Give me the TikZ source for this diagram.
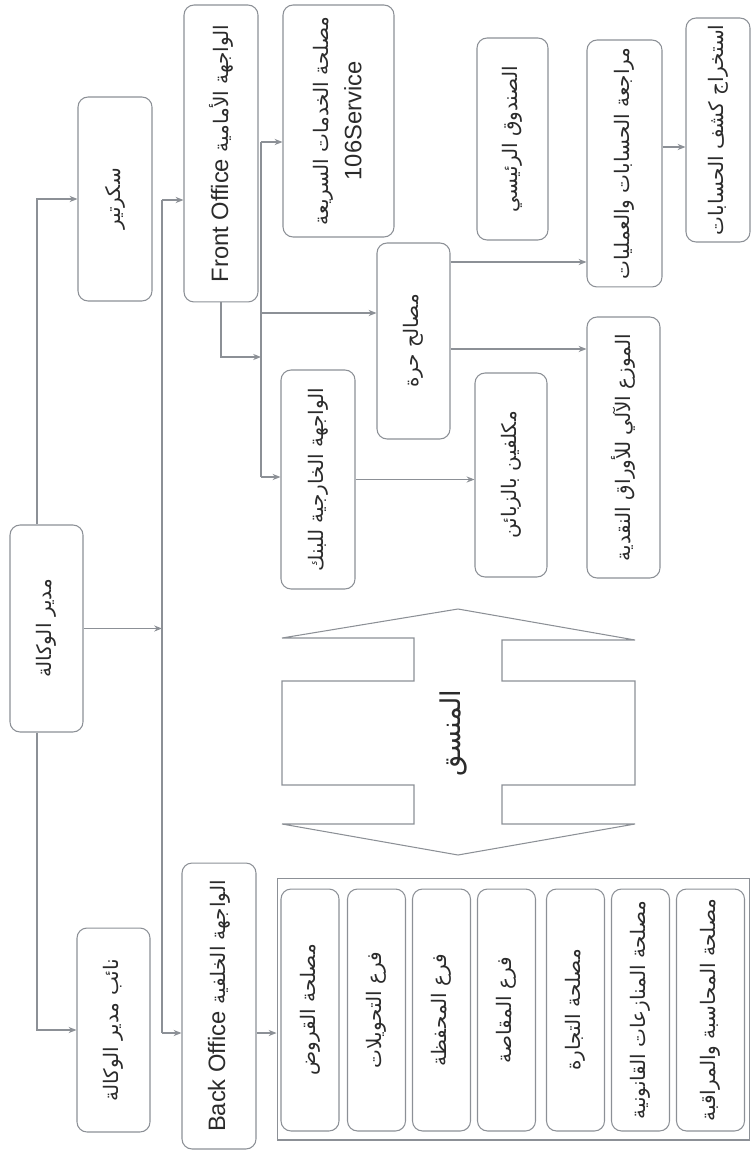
\documentclass[tikz,border=0pt]{standalone}
\usepackage{fontspec}
\setmainfont{Liberation Sans}
\newfontfamily\arabicfont[Script=Arabic]{DejaVu Sans}
\TeXXeTstate=1
\usetikzlibrary{arrows.meta, positioning}
\definecolor{linegray}{HTML}{8C9096}
\definecolor{inkgray}{HTML}{2B2B2B}
\newcommand{\artext}[1]{\mbox{\arabicfont\beginR #1\endR}}
\newcommand{\vtext}[1]{\rotatebox{90}{#1}}
\newcommand{\flatbox}[1]{{\setlength{\fboxrule}{0pt}\fbox{#1}}}

\begin{document}
\begin{tikzpicture}[
    x=0.02cm, y=-0.02cm,
    every node/.style={font=\fontsize{11.4}{14}\selectfont, text=inkgray},
    latin/.style={font=\fontsize{13.5}{16}\selectfont},
    box/.style={rectangle, rounded corners=0.2cm, draw=linegray, line width=0.6pt, inner sep=0pt, align=center},
    unit/.style={box, minimum width=1.16cm, minimum height=4.84cm},
    arrow/.style={-{Stealth[length=4.5pt, width=3.5pt]}, draw=linegray, line width=0.6pt},
    wire/.style={draw=linegray, line width=0.6pt}
]
\useasboundingbox (0,0) rectangle (752,1151);

% management column
\node[box, minimum width=1.46cm, minimum height=4.14cm] (mgr) at (46.5,628.5) {\vtext{\artext{مدير الوكالة}}};
\node[box, minimum width=1.48cm, minimum height=4.08cm] (sec) at (115,199) {\vtext{\artext{سكرتير}}};
\node[box, minimum width=1.46cm, minimum height=4.08cm] (deputy) at (113.5,1030) {\vtext{\artext{نائب مدير الوكالة}}};

% front and back office
\node[box, latin, minimum width=1.48cm, minimum height=5.94cm] (front) at (221,153.5) {\vtext{Front Office {\fontsize{11.4}{14}\selectfont\artext{الواجهة الأمامية}}}};
\node[box, latin, minimum width=1.48cm, minimum height=5.72cm] (back) at (219,1006) {\vtext{Back Office {\fontsize{11.4}{14}\selectfont\artext{الواجهة الخلفية}}}};

% front office units
\node[box, minimum width=2.22cm, minimum height=4.64cm] (quick) at (338.5,121) {\vtext{\flatbox{\begin{tabular}{@{}c@{}}\flatbox{\artext{مصلحة الخدمات السريعة}}\\\flatbox{\fontsize{13.5}{16}\selectfont 106Service}\end{tabular}}}};
\node[box, minimum width=1.48cm, minimum height=4.38cm] (ext) at (318,479.5) {\vtext{\artext{الواجهة الخارجية للبنك}}};
\node[box, minimum width=1.46cm, minimum height=3.92cm] (free) at (413.5,341) {\vtext{\artext{مصالح حرة}}};
\node[box, minimum width=1.44cm, minimum height=4.08cm] (clients) at (511,475) {\vtext{\artext{مكلفين بالزبائن}}};
\node[box, minimum width=1.42cm, minimum height=4.04cm] (cash) at (512.5,139) {\vtext{\artext{الصندوق الرئيسي}}};
\node[box, minimum width=1.46cm, minimum height=5.22cm] (atm) at (623.5,447.5) {\vtext{\artext{الموزع الآلي للأوراق النقدية}}};
\node[box, minimum width=1.50cm, minimum height=4.94cm] (audit) at (624.5,163.5) {\vtext{\artext{مراجعة الحسابات والعمليات}}};
\node[box, minimum width=1.28cm, minimum height=4.48cm] (stmt) at (718,130) {\vtext{\artext{استخراج كشف الحسابات}}};

% back office units
\node[draw=linegray, line width=0.6pt, minimum width=9.46cm, minimum height=5.24cm, inner sep=0pt] (backgrp) at (513.5,1009) {};
\node[unit] (loans) at (310,1010) {\vtext{\artext{مصلحة القروض}}};
\node[unit] (transfers) at (376.5,1010) {\vtext{\artext{فرع التحويلات}}};
\node[unit] (portfolio) at (441.5,1010) {\vtext{\artext{فرع المحفظة}}};
\node[unit] (clearing) at (506.5,1010) {\vtext{\artext{فرع المقاصة}}};
\node[unit] (trade) at (575.5,1010) {\vtext{\artext{مصلحة التجارة}}};
\node[unit] (legal) at (640.5,1010) {\vtext{\artext{مصلحة المنازعات القانونية}}};
\node[unit, minimum width=1.36cm] (accounting) at (710.5,1010) {\vtext{\artext{مصلحة المحاسبة والمراقبة}}};

% coordinator double arrow
\draw[wire] (282,638) -- (458,609) -- (635,640) -- (502,640) -- (502,681) -- (635,681)
  -- (635,785) -- (502,785) -- (502,824) -- (635,824) -- (458,855) -- (282,824)
  -- (414,824) -- (414,785) -- (282,785) -- (282,681) -- (414,681) -- (414,638) -- cycle;
\node[font=\fontsize{15.5}{19}\selectfont] (coord) at (453,733) {\vtext{\artext{المنسق}}};

% connectors
\coordinate (busT) at (162,200);
\coordinate (busB) at (162,1033);
\draw[wire] (busT) -- (busB);
\draw[arrow] ([xshift=-0.19cm]mgr.north) |- (sec.west);
\draw[arrow] ([xshift=-0.19cm]mgr.south) |- (deputy.west);
\draw[arrow] (mgr.east) -- (mgr.east -| busT);
\draw[arrow] (busT) -- (busT -| front.west);
\draw[arrow] (busB) -- (busB -| back.west);
\draw[arrow] (back.east |- busB) -- (backgrp.west |- busB);

\coordinate (fb1) at (261,142);
\coordinate (fb2) at (261,313);
\coordinate (fb3) at (261,477);
\draw[wire] (fb1) -- (fb3);
\draw[arrow] (front.south) |- (261,357);
\draw[arrow] (fb1) -- (fb1 -| quick.west);
\draw[arrow] (fb2) -- (fb2 -| free.west);
\draw[arrow] (fb3) -- (fb3 -| ext.west);
\draw[arrow] (ext.east) -- (ext.east -| clients.west);
\draw[arrow] ([yshift=-0.16cm]free.east) coordinate (f1) -- (f1 -| atm.west);
\draw[arrow] ([yshift=1.58cm]free.east) coordinate (f2) -- (f2 -| audit.west);
\draw[arrow] ([yshift=0.33cm]audit.east) coordinate (a1) -- (a1 -| stmt.west);
\end{tikzpicture}
\end{document}
